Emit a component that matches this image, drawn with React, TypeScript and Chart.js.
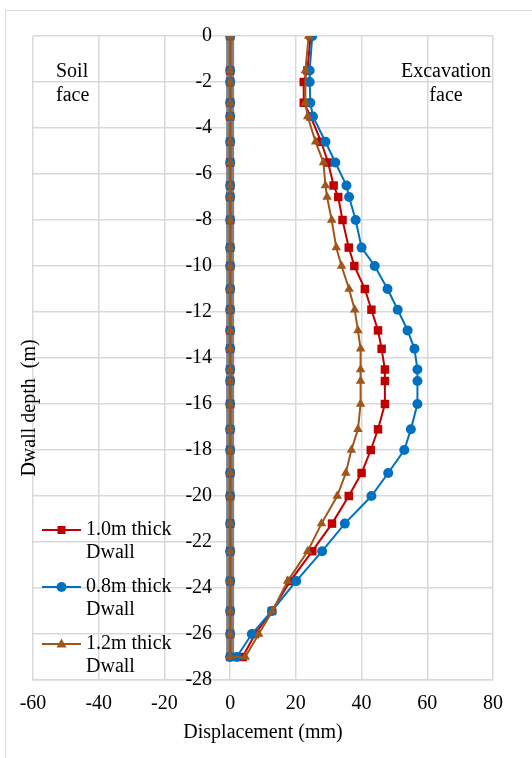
import React, { useEffect, useRef } from "react";
import { Chart, registerables } from "chart.js";

Chart.register(...registerables);

// Depth below ground level (m), shared by every series
const depths = [
  0, -1.5, -2, -2.9, -3.5, -4.6, -5.5, -6.5, -7, -8, -9.2, -10, -11, -11.9, -12.8,
  -13.6, -14.5, -15, -16, -17.1, -18, -19, -20, -21.2, -22.4, -23.7, -25, -26, -27,
];

// Lateral displacement (mm) after excavation
const disp10 = [
  24.5, 23.5, 22.4, 22.4, 24.5, 27.7, 29.8, 31.5, 32.9, 34.2, 36.1, 37.8, 41.0, 43.0, 45.0,
  46.1, 47.1, 47.1, 47.1, 45.0, 42.8, 40.0, 36.1, 31.0, 25.0, 18.3, 12.7, 7.6, 3.8,
];
const disp08 = [
  25.0, 24.2, 24.2, 24.4, 25.2, 29.0, 32.0, 35.4, 36.2, 38.2, 40.0, 44.0, 47.9, 51.0, 54.0,
  56.1, 57.0, 57.0, 57.0, 55.0, 53.0, 48.1, 43.0, 34.9, 28.0, 20.1, 12.7, 6.6, 2.0,
];
const disp12 = [
  23.9, 22.9, null, 22.9, 23.6, 26.0, 28.4, 29.0, 29.5, 30.9, 32.3, 33.9, 36.2, 37.9, 38.9,
  39.7, 39.7, 39.7, 39.7, 38.9, 36.9, 35.2, 32.6, 27.8, 23.6, 17.5, 12.9, 8.7, 4.6,
];

// Initial (undeformed) wall position
const wallX = 0;
const wallTop = 0;
const wallToe = -27;

// The depth labels are right-aligned on this displacement value, just left of the wall
const depthLabelColumn = -5.5;

const seriesNames = ["1.0m thick", "0.8m thick", "1.2m thick"];
const seriesSuffix = "Dwall";
const xTitle = "Displacement (mm)";
const yTitle = "Dwall depth  (m)";
const soilLabel = ["Soil", "face"];
const excavationLabel = ["Excavation", "face"];

const RED = "#C00000";
const BLUE = "#0070C0";
const BROWN = "#A0561A";
const WALL = "#808080";
const GRID = "#d9d9d9";
const FONT_FAMILY = "'Liberation Serif', 'Times New Roman', serif";

// Deflected profile from top to toe, then back up along the original wall line
function profile(values: (number | null)[]) {
  const pts: { x: number; y: number }[] = [];
  depths.forEach((d, i) => {
    const v = values[i];
    if (v !== null && v !== undefined) pts.push({ x: v, y: d });
  });
  for (let i = depths.length - 1; i >= 0; i--) pts.push({ x: wallX, y: depths[i] });
  return pts;
}

const legendItems = [
  { name: seriesNames[0], color: RED, style: "rect" },
  { name: seriesNames[1], color: BLUE, style: "circle" },
  { name: seriesNames[2], color: BROWN, style: "triangle" },
];

const decorPlugin = {
  id: "decor",
  beforeDraw(chart: any) {
    const ctx = chart.ctx;
    ctx.save();
    ctx.fillStyle = "#ffffff";
    ctx.fillRect(0, 0, chart.width, chart.height);
    ctx.strokeStyle = GRID;
    ctx.lineWidth = 1;
    ctx.strokeRect(5.5, 10.5, chart.width + 20, chart.height + 20);
    ctx.restore();
  },
  afterDraw(chart: any) {
    const ctx = chart.ctx;
    ctx.save();
    ctx.fillStyle = "#000";
    ctx.font = `20px ${FONT_FAMILY}`;
    ctx.textBaseline = "middle";

    // Face annotations
    ctx.textAlign = "left";
    ctx.fillText(soilLabel[0], 56, 72);
    ctx.fillText(soilLabel[1], 56, 96);
    ctx.textAlign = "center";
    ctx.fillText(excavationLabel[0], 446, 72);
    ctx.fillText(excavationLabel[1], 446, 96);

    // Vertical axis title
    ctx.save();
    ctx.translate(30, 408);
    ctx.rotate(-Math.PI / 2);
    ctx.textAlign = "center";
    ctx.fillText(yTitle, 0, 0);
    ctx.restore();

    // Legend
    const rows = [530, 587, 644];
    legendItems.forEach((it, i) => {
      const y = rows[i];
      ctx.strokeStyle = it.color;
      ctx.lineWidth = 2;
      ctx.beginPath();
      ctx.moveTo(42, y);
      ctx.lineTo(81, y);
      ctx.stroke();
      ctx.fillStyle = it.color;
      ctx.beginPath();
      if (it.style === "rect") {
        ctx.rect(57.5, y - 4, 8, 8);
      } else if (it.style === "circle") {
        ctx.arc(61.5, y, 5, 0, Math.PI * 2);
      } else {
        ctx.moveTo(61.5, y - 5.5);
        ctx.lineTo(66.5, y + 3.5);
        ctx.lineTo(56.5, y + 3.5);
        ctx.closePath();
      }
      ctx.fill();
      ctx.fillStyle = "#000";
      ctx.textAlign = "left";
      ctx.fillText(it.name, 86, y);
      ctx.fillText(seriesSuffix, 86, y + 23);
    });
    ctx.restore();
  },
};

export default function App() {
  const ref = useRef<HTMLCanvasElement | null>(null);

  useEffect(() => {
    if (!ref.current) return;
    const font = { family: FONT_FAMILY, size: 20 };
    const chart = new Chart(ref.current, {
      type: "scatter",
      data: {
        datasets: [
          {
            label: "wall",
            data: [
              { x: wallX, y: wallTop },
              { x: wallX, y: wallToe },
            ],
            showLine: true,
            borderColor: WALL,
            backgroundColor: WALL,
            borderWidth: 8,
            pointRadius: 0,
            order: 4,
          },
          {
            label: `${seriesNames[0]} ${seriesSuffix}`,
            data: profile(disp10),
            showLine: true,
            spanGaps: true,
            borderColor: RED,
            backgroundColor: RED,
            borderWidth: 2,
            pointStyle: "rect",
            pointRadius: 6,
            pointBorderWidth: 0,
            order: 3,
          },
          {
            label: `${seriesNames[1]} ${seriesSuffix}`,
            data: profile(disp08),
            showLine: true,
            spanGaps: true,
            borderColor: BLUE,
            backgroundColor: BLUE,
            borderWidth: 2,
            pointStyle: "circle",
            pointRadius: 5,
            pointBorderWidth: 0,
            order: 2,
          },
          {
            label: `${seriesNames[2]} ${seriesSuffix}`,
            data: profile(disp12),
            showLine: true,
            spanGaps: true,
            borderColor: BROWN,
            backgroundColor: BROWN,
            borderWidth: 2,
            pointStyle: "triangle",
            pointRadius: 5.5,
            pointBorderWidth: 0,
            order: 1,
          },
        ],
      },
      options: {
        animation: false,
        responsive: false,
        devicePixelRatio: 1,
        layout: { padding: { left: 33, right: 39, top: 36, bottom: 13 } },
        scales: {
          x: {
            type: "linear",
            min: -60,
            max: 80,
            ticks: { stepSize: 20, font, color: "#000", padding: 12 },
            grid: { color: GRID, lineWidth: 1.5, drawTicks: false },
            border: { display: true, color: GRID, width: 1.5 },
            title: {
              display: true,
              text: xTitle,
              font,
              color: "#000",
              padding: { top: -7, bottom: 0 },
            },
          },
          y: {
            type: "linear",
            min: -28,
            max: 0,
            position: { x: depthLabelColumn },
            ticks: { stepSize: 2, font, color: "#000" },
            grid: { color: GRID, lineWidth: 1.5, drawTicks: false },
            border: { display: false },
          },
        },
        plugins: {
          legend: { display: false },
          tooltip: { enabled: false },
        },
      },
      plugins: [decorPlugin],
    });
    return () => chart.destroy();
  }, []);

  return (
    <div style={{ position: "absolute", left: 0, top: 0, width: 532, height: 758 }}>
      <canvas ref={ref} width={532} height={758} />
    </div>
  );
}
